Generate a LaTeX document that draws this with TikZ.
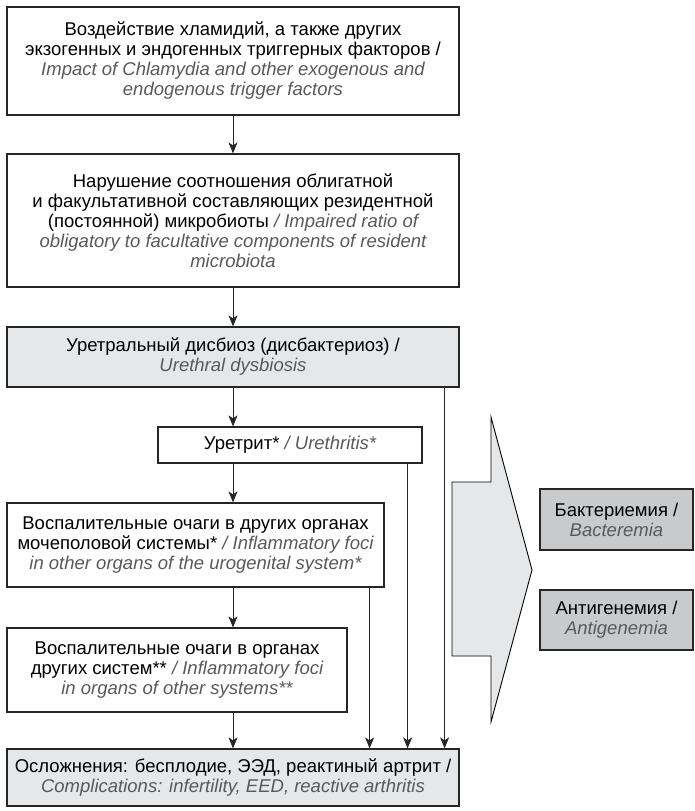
\documentclass[tikz,border=0pt]{standalone}
\usepackage{fontspec}
\setmainfont{Liberation Sans}
\usetikzlibrary{arrows.meta}

\definecolor{lightfill}{HTML}{E6E7E8}
\definecolor{sidefill}{HTML}{C9CACB}
\definecolor{engtext}{HTML}{58595B}
\newcommand{\entxt}[1]{\textcolor{engtext}{\itshape #1}}

\tikzset{
  box/.style={draw=black!85,line width=1.2pt,align=center,inner sep=0pt,
    font=\fontsize{18.5}{20}\selectfont},
  flow/.style={draw=black!85,line width=1pt,-{Stealth[length=11pt,width=9pt,inset=3pt]}}
}

\begin{document}
\begin{tikzpicture}[x=1pt,y=-1pt]
  \useasboundingbox (0,0) rectangle (694,811);

  % Main column
  \node[box,minimum width=452pt,minimum height=108pt] (impact) at (233,61)
    {Воздействие хламидий, а также других\\
     экзогенных и эндогенных триггерных факторов /\\
     \entxt{Impact of Chlamydia and other exogenous and}\\
     \entxt{endogenous trigger factors}};
  \node[box,minimum width=452pt,minimum height=133pt] (ratio) at (233,220.5)
    {Нарушение соотношения облигатной\\
     и факультативной составляющих резидентной\\
     (постоянной) микробиоты \entxt{/ Impaired ratio of}\\
     \entxt{obligatory to facultative components of resident}\\
     \entxt{microbiota}};
  \node[box,fill=lightfill,minimum width=452pt,minimum height=60pt] (dysb) at (233,357)
    {Уретральный дисбиоз (дисбактериоз) /\\
     \entxt{Urethral dysbiosis}};
  \node[box,minimum width=264pt,minimum height=36pt] (ureth) at (290,445)
    {Уретрит* \entxt{/ Urethritis*}};
  \node[box,minimum width=377pt,minimum height=84pt] (fociuro) at (195.5,545)
    {Воспалительные очаги в других органах\\
     мочеполовой системы* \entxt{/ Inflammatory foci}\\
     \entxt{in other organs of the urogenital system*}};
  \node[box,minimum width=340pt,minimum height=84pt] (fociother) at (177,670)
    {Воспалительные очаги в органах\\
     других систем** \entxt{/ Inflammatory foci}\\
     \entxt{in organs of other systems**}};
  \node[box,fill=lightfill,minimum width=452pt,minimum height=57pt] (compl) at (233,777.5)
    {Осложнения: бесплодие, ЭЭД, реактиный артрит /\\
     \entxt{Complications: infertility, EED, reactive arthritis}};

  % Side outcomes
  \node[box,fill=sidefill,minimum width=153pt,minimum height=61pt] (bact) at (616.5,519.5)
    {Бактериемия /\\ \entxt{Bacteremia}};
  \node[box,fill=sidefill,minimum width=153pt,minimum height=60pt] (antig) at (616.5,620)
    {Антигенемия /\\ \entxt{Antigenemia}};

  % Big arrow
  \draw[fill=lightfill,line width=0.9pt,line join=miter]
    (452,482) -- (491,482) -- (491,417) -- (532,570) -- (491,722) -- (491,656) -- (452,656) -- cycle;

  % Spine
  \draw[flow] (impact) -- (ratio);
  \draw[flow] (ratio) -- (dysb);
  \draw[flow] (dysb.south) -- (dysb.south |- ureth.north);
  \draw[flow] (dysb.south |- ureth.south) -- (dysb.south |- fociuro.north);
  \draw[flow] (dysb.south |- fociuro.south) -- (dysb.south |- fociother.north);
  \draw[flow] (dysb.south |- fociother.south) -- (compl);

  % Bypass lines
  \draw[flow] ([xshift=-15pt]fociuro.south east) -- ([xshift=-15pt]fociuro.south east |- compl.north);
  \draw[flow] ([xshift=-15pt]ureth.south east) -- ([xshift=-15pt]ureth.south east |- compl.north);
  \draw[flow] ([xshift=-15pt]dysb.south east) -- ([xshift=-15pt]dysb.south east |- compl.north);
\end{tikzpicture}
\end{document}
